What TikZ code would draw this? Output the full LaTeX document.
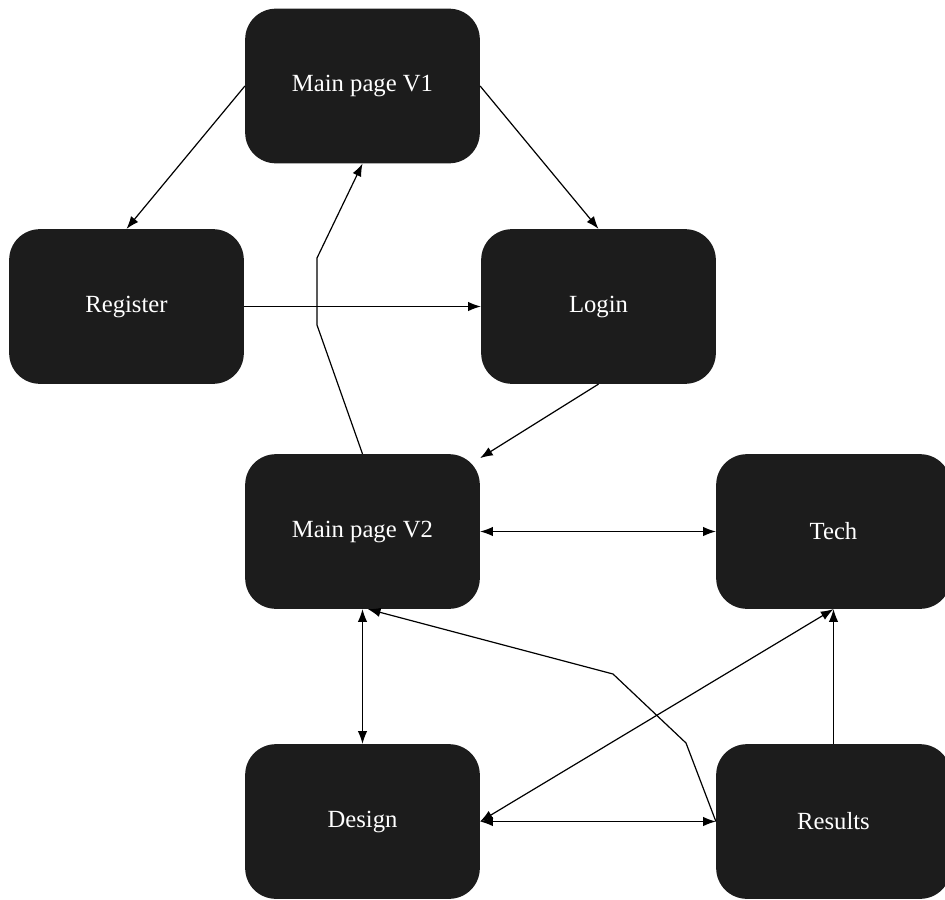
\documentclass[tikz,border=0pt]{standalone}
\usepackage{fontspec}
\setmainfont{Liberation Serif}
\usetikzlibrary{arrows.meta}

\begin{document}
\begin{tikzpicture}[x=0.75pt, y=-0.75pt,
    page/.style={draw=none, fill={rgb,255:red,28;green,28;blue,28}, text=white,
      rounded corners=23pt, minimum width=176pt, minimum height=116pt,
      font=\fontsize{18.5}{22}\selectfont},
    link/.style={line width=0.9pt, -{Latex[length=9.5pt,width=7pt]}},
    both/.style={line width=0.9pt, {Latex[length=9.5pt,width=7pt]}-{Latex[length=9.5pt,width=7pt]}}]
  \clip (0,0) rectangle (945,899);

  % Pages
  \node[page] (v1) at (362.5,86) {Main page V1};
  \node[page] (register) at (126.5,306.5) {Register};
  \node[page] (login) at (598.5,306.5) {Login};
  \node[page] (v2) at (362.5,531.5) {Main page V2};
  \node[page] (tech) at (833.5,531.5) {Tech};
  \node[page] (design) at (362.5,821.5) {Design};
  \node[page] (results) at (833.5,821.5) {Results};

  % Bends
  \coordinate (backA) at (317,325);
  \coordinate (backB) at (317,258);
  \coordinate (resA) at (686,743);
  \coordinate (resB) at (613,674);

  % Top part
  \draw[link] (v1.west) -- (register.north);
  \draw[link] (v1.east) -- (login.north);
  \draw[link] (register.east) -- (login.west);
  \draw[link] (login.south) -- (v2);
  \draw[link] (v2.north) -- (backA) -- (backB) -- (v1.south);

  % Bottom part
  \draw[both] (v2.east) -- (tech.west);
  \draw[both] (v2.south) -- (design.north);
  \draw[link] (results.west) -- (resA) -- (resB) -- ([xshift=4pt]v2.south);
  \draw[both] (design.east) -- (tech.south);
  \draw[both] (design.east) -- (results.west);
  \draw[link] (results.north) -- (tech.south);
\end{tikzpicture}
\end{document}
